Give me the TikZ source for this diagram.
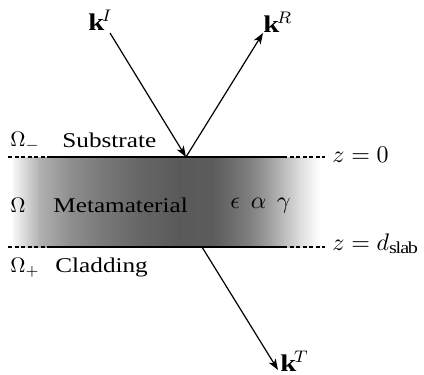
\documentclass[tikz,border=0pt]{standalone}
\usepackage{fontspec}
\setmainfont{Liberation Serif}[FakeStretch=1.2]
\usetikzlibrary{arrows.meta}
\begin{document}
\begin{tikzpicture}[x=1pt,y=-1pt,
  lbl/.style={anchor=base west,inner sep=0pt,scale=2.1},
  mlbl/.style={anchor=base west,inner sep=0pt,scale=2.4},
  wave/.style={line width=1.2pt,-{Stealth[length=11pt,width=8pt,inset=3pt]}},
  edge/.style={line width=1.2pt},
  dashedge/.style={line width=1.1pt,dash pattern=on 4pt off 2.5pt}]
\useasboundingbox (0,0) rectangle (424,375);
% slab gradient, piecewise
\foreach \xa/\ca/\xb/\cb in {14/4/40/31, 40/31/70/44, 70/44/100/52, 100/52/140/60, 140/60/180/65, 180/65/212/64, 212/64/230/58, 230/58/250/50, 250/50/270/37, 270/37/300/13, 300/13/320/0}
  \shade[left color=black!\ca, right color=black!\cb, shading angle=90] (\xa-0.3,157) rectangle (\xb+0.3,247);
\coordinate (TL) at (48,157); \coordinate (TR) at (283,157);
\coordinate (BL) at (48,247); \coordinate (BR) at (283,247);
\coordinate (TLd) at (8,157); \coordinate (TRd) at (325,157);
\coordinate (BLd) at (8,247); \coordinate (BRd) at (325,247);
\draw[edge] (TL) -- (TR);
\draw[edge] (BL) -- (BR);
\draw[dashedge] (TLd) -- (TL);
\draw[dashedge] (TR) -- (TRd);
\draw[dashedge] (BLd) -- (BL);
\draw[dashedge] (BR) -- (BRd);
% labels
\node[lbl] (om) at (10,146) {$\Omega_-$};
\node[lbl] (sub) at (62,147) {Substrate};
\node[lbl] (o) at (10,212) {$\Omega$};
\node[lbl] (meta) at (53,212) {Metamaterial};
\node[lbl] (op) at (10,272) {$\Omega_+$};
\node[lbl] (clad) at (55,272) {Cladding};
\node[mlbl] (par) at (230,208) {$\epsilon\;\,\alpha\;\,\gamma$};
\node[mlbl] (z0) at (332,162) {$z=0$};
\node[mlbl] (zd) at (332,250) {$z=d_{\mathrm{slab}}$};
\node[mlbl] (kI) at (88,30) {$\mathbf{k}^I$};
\node[mlbl] (kR) at (263,32) {$\mathbf{k}^R$};
\node[mlbl] (kT) at (280,371) {$\mathbf{k}^T$};
% waves
\coordinate (kIs) at (110,33);
\coordinate (O) at (186,157);
\coordinate (kRe) at (263,33);
\coordinate (Ob) at (202,247);
\coordinate (kTe) at (278,370);
\draw[wave] (kIs) -- (O);
\draw[wave] (O) -- (kRe);
\draw[wave] (Ob) -- (kTe);
\end{tikzpicture}
\end{document}
